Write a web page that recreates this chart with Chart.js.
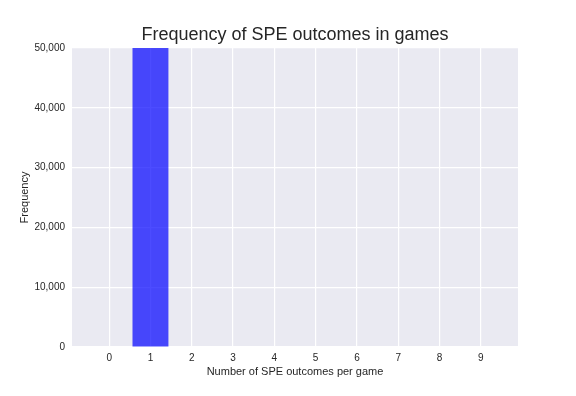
<!doctype html>
<html lang="en">
  <head>
    <meta charset="UTF-8" />
    <title>Frequency of SPE outcomes in games</title>
    <script src="https://cdn.jsdelivr.net/npm/chart.js"></script>
    <style>
      body {
        margin: 0;
        background: #ffffff;
      }
      .wrap {
        width: 576px;
        height: 396px;
      }
    </style>
  </head>
  <body>
    <div class="wrap"><canvas id="chart" width="576" height="396"></canvas></div>
    <script>
      // SPE outcomes per game and how often each occurred
      const outcomes = [0, 1, 2, 3, 4, 5, 6, 7, 8, 9];
      const frequency = [0, 100000, 0, 0, 0, 0, 0, 0, 0, 0];
      const yTicks = [0, 10000, 20000, 30000, 40000, 50000];
      const chartTitle = 'Frequency of SPE outcomes in games';

      const textColor = '#262626';
      const font = "'Liberation Sans', Arial, sans-serif";

      new Chart(document.getElementById('chart'), {
        type: 'bar',
        data: {
          datasets: [
            {
              data: outcomes.map((o, i) => ({ x: o, y: frequency[i] })),
              backgroundColor: 'rgba(0, 0, 255, 0.7)',
              borderWidth: 0,
              categoryPercentage: 1,
              barPercentage: 0.87,
            },
          ],
        },
        options: {
          responsive: false,
          animation: false,
          layout: { padding: { left: 0, right: 58, top: 48, bottom: 0 } },
          plugins: {
            legend: { display: false },
            tooltip: { enabled: false },
          },
          scales: {
            x: {
              type: 'linear',
              min: -0.9,
              max: 9.9,
              offset: false,
              border: { display: false },
              grid: {
                color: '#ffffff',
                lineWidth: 1.2,
                drawTicks: false,
                offset: false,
              },
              afterBuildTicks: (s) => {
                s.ticks = outcomes.map((v) => ({ value: v }));
              },
              afterFit: (s) => {
                s.height = 49;
              },
              ticks: {
                color: textColor,
                font: { family: font, size: 10 },
                padding: 5,
                maxRotation: 0,
              },
              title: {
                display: true,
                text: 'Number of SPE outcomes per game',
                color: textColor,
                font: { family: font, size: 11 },
                padding: { top: 0, bottom: 17.4 },
              },
            },
            y: {
              min: 0,
              max: 50000,
              border: { display: false },
              grid: { color: '#ffffff', lineWidth: 1.2, drawTicks: false },
              afterBuildTicks: (s) => {
                s.ticks = yTicks.map((v) => ({ value: v }));
              },
              afterFit: (s) => {
                s.width = 72;
              },
              ticks: {
                color: textColor,
                font: { family: font, size: 10 },
                padding: 7,
                callback: (v) => v.toLocaleString('en-US'),
              },
              title: {
                display: true,
                text: 'Frequency',
                color: textColor,
                font: { family: font, size: 11 },
                padding: { top: 18.4, bottom: 0 },
              },
            },
          },
        },
        plugins: [
          {
            id: 'plotBackground',
            beforeDraw(chart) {
              const { ctx, chartArea } = chart;
              ctx.save();
              ctx.fillStyle = '#eaeaf2';
              ctx.fillRect(
                chartArea.left,
                chartArea.top,
                chartArea.right - chartArea.left,
                chartArea.bottom - chartArea.top
              );
              ctx.restore();
            },
          },
          {
            // title centred over the plot area, like matplotlib does
            id: 'axesTitle',
            afterDraw(chart) {
              const { ctx, chartArea } = chart;
              ctx.save();
              ctx.fillStyle = textColor;
              ctx.font = '18px ' + font;
              ctx.textAlign = 'center';
              ctx.textBaseline = 'middle';
              ctx.fillText(chartTitle, (chartArea.left + chartArea.right) / 2, 35);
              ctx.restore();
            },
          },
        ],
      });
    </script>
  </body>
</html>
